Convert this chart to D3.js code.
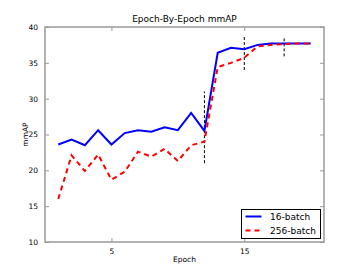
<!DOCTYPE html>
<html>
<head>
<meta charset="utf-8">
<script src="https://cdn.jsdelivr.net/npm/d3@7"></script>
<style>
  body { margin: 0; background: #fff; }
  text { font-family: "DejaVu Sans", sans-serif; fill: #000; }
</style>
</head>
<body>
<div id="chart"></div>
<script>
// Chart data
var epochs = d3.range(1, 21);
var batch16 = [23.6, 24.3, 23.5, 25.6, 23.6, 25.2, 25.6, 25.4, 26.0, 25.6,
               28.0, 25.5, 36.4, 37.1, 36.9, 37.5, 37.7, 37.7, 37.7, 37.7];
var batch256 = [16.0, 22.1, 19.9, 22.2, 18.7, 19.8, 22.6, 21.9, 23.0, 21.3,
                23.5, 24.0, 34.4, 35.0, 35.7, 37.3, 37.5, 37.6, 37.7, 37.7];
var xTicks = [5, 15];
var yTicks = [10, 15, 20, 25, 30, 35, 40];
// vertical dashed markers: [epoch, low, high]
var markers = [[12, 21, 31], [15, 34, 38.7], [18, 35.9, 38.6]];
var seriesNames = ["16-batch", "256-batch"];

// Chart params
var svgWidth = 360;
var svgHeight = 270;
var margin = { top: 27, right: 36, bottom: 28, left: 45 };
var chartWidth = svgWidth - margin.left - margin.right;
var chartHeight = svgHeight - margin.top - margin.bottom;

var svg = d3.select("#chart")
    .append("svg")
    .attr("width", svgWidth)
    .attr("height", svgHeight);

var chartGroup = svg.append("g")
    .attr("transform", `translate(${margin.left}, ${margin.top})`);

// scales
var xScale = d3.scaleLinear().domain([0, 21]).range([0, chartWidth]);
var yScale = d3.scaleLinear().domain([10, 40]).range([chartHeight, 0]);

var frameColor = "#999";

// axes (ticks inside, mirrored on top/right)
var bottomAxis = d3.axisBottom(xScale).tickValues(xTicks).tickSizeInner(-4).tickSizeOuter(0).tickPadding(7);
var topAxis = d3.axisTop(xScale).tickValues(xTicks).tickSizeInner(-4).tickSizeOuter(0).tickFormat("");
var leftAxis = d3.axisLeft(yScale).tickValues(yTicks).tickSizeInner(-4).tickSizeOuter(0).tickPadding(7);
var rightAxis = d3.axisRight(yScale).tickValues(yTicks).tickSizeInner(-4).tickSizeOuter(0).tickFormat("");

function styleAxis(g) {
    g.select(".domain").remove();
    g.selectAll("line").attr("stroke", frameColor).attr("stroke-width", 1);
    g.selectAll("text").style("font-size", "7.5px").attr("fill", "#000");
}

chartGroup.append("g").attr("transform", `translate(0, ${chartHeight})`).call(bottomAxis).call(styleAxis);
chartGroup.append("g").call(topAxis).call(styleAxis);
chartGroup.append("g").call(leftAxis).call(styleAxis);
chartGroup.append("g").attr("transform", `translate(${chartWidth}, 0)`).call(rightAxis).call(styleAxis);

// dashed vertical markers
chartGroup.selectAll(".marker")
    .data(markers)
    .join("line")
    .attr("class", "marker")
    .attr("x1", d => xScale(d[0]))
    .attr("x2", d => xScale(d[0]))
    .attr("y1", d => yScale(d[1]))
    .attr("y2", d => yScale(d[2]))
    .attr("stroke", "#000")
    .attr("stroke-width", 1)
    .attr("stroke-dasharray", "3,2");

// lines (red drawn last, it sits on top of the blue at the end)
var line = d3.line()
    .x((d, i) => xScale(epochs[i]))
    .y(d => yScale(d));

chartGroup.append("path")
    .datum(batch16)
    .attr("d", line)
    .attr("fill", "none")
    .attr("stroke", "#0000ff")
    .attr("stroke-width", 2);

chartGroup.append("path")
    .datum(batch256)
    .attr("d", line)
    .attr("fill", "none")
    .attr("stroke", "#ff0000")
    .attr("stroke-width", 2)
    .attr("stroke-dasharray", "5,4");

// frame
chartGroup.append("rect")
    .attr("width", chartWidth)
    .attr("height", chartHeight)
    .attr("fill", "none")
    .attr("stroke", frameColor)
    .attr("stroke-width", 1.5);

// title and labels
svg.append("text")
    .attr("x", margin.left + chartWidth / 2)
    .attr("y", 22)
    .attr("text-anchor", "middle")
    .style("font-size", "9px")
    .text("Epoch-By-Epoch mmAP");

svg.append("text")
    .attr("x", margin.left + chartWidth / 2)
    .attr("y", 262)
    .attr("text-anchor", "middle")
    .style("font-size", "7.5px")
    .text("Epoch");

svg.append("text")
    .attr("transform", `translate(28, ${margin.top + chartHeight / 2}) rotate(-90)`)
    .attr("text-anchor", "middle")
    .style("font-size", "7.5px")
    .text("mmAP");

// legend
var legend = svg.append("g").attr("transform", "translate(241.5, 209.5)");
legend.append("rect")
    .attr("width", 79)
    .attr("height", 29)
    .attr("fill", "#fff")
    .attr("stroke", "#000")
    .attr("stroke-width", 1);

var legendStyles = [
    { color: "#0000ff", dash: null },
    { color: "#ff0000", dash: "5,4" }
];
seriesNames.forEach((name, i) => {
    var y = 7 + i * 14;
    legend.append("line")
        .attr("x1", 4).attr("x2", 20)
        .attr("y1", y).attr("y2", y)
        .attr("stroke", legendStyles[i].color)
        .attr("stroke-width", 2)
        .attr("stroke-dasharray", legendStyles[i].dash);
    legend.append("text")
        .attr("x", 28.5)
        .attr("y", y + 3.2)
        .style("font-size", "9px")
        .text(name);
});
</script>
</body>
</html>
